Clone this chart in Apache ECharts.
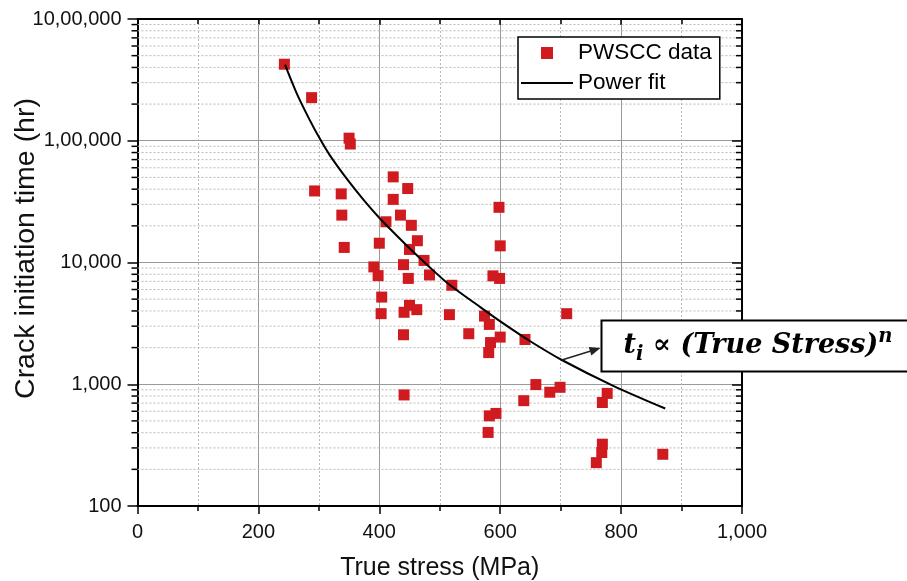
<!DOCTYPE html>
<html>
<head>
<meta charset="utf-8">
<script src="https://cdn.jsdelivr.net/npm/echarts@6/dist/echarts.min.js"></script>
<style>html,body{margin:0;padding:0;background:#fff;}#c{width:907px;height:581px;}</style>
</head>
<body>
<div id="c"></div>
<script>
// ---- data ----
const stress = [243, 288, 350, 352, 293, 337, 338, 342, 423, 447, 423, 435, 411, 453, 400, 463, 450, 474, 391, 398, 440, 483, 448, 520, 598, 600, 588, 599, 404, 450, 462, 441, 403, 516, 574, 582, 548, 600, 584, 641, 440, 581, 441, 639, 710, 659, 682, 699, 777, 769, 582, 593, 580, 769, 768, 759, 869];
const initTime = [425000, 226000, 105000, 94000, 38700, 36600, 24500, 13300, 50500, 40500, 33000, 24500, 21600, 20200, 14400, 15100, 12800, 10400, 9200, 7800, 9600, 7900, 7400, 6500, 28400, 13700, 7770, 7400, 5200, 4450, 4100, 3900, 3800, 3730, 3630, 3100, 2600, 2440, 2200, 2330, 2550, 1820, 817, 733, 3800, 994, 860, 944, 841, 708, 550, 576, 402, 322, 275, 227, 266];
const fitStress = [244, 263, 285, 302, 318, 347, 374, 401, 429, 456, 479, 512, 567, 605, 649, 702, 787, 873];
const fitTime = [421300, 247600, 147800, 103200, 76200, 48100, 32700, 22980, 16600, 12270, 9590, 6825, 4300, 3160, 2266, 1582, 971, 632];
const xTickValues = [0, 200, 400, 600, 800, 1000];
const xTickLabels = ['0', '200', '400', '600', '800', '1,000'];
const yTickValues = [100, 1000, 10000, 100000, 1000000];
const yTickLabels = ['100', '1,000', '10,000', '1,00,000', '10,00,000'];
const yMinorValues = [200, 300, 400, 500, 600, 700, 800, 900, 2000, 3000, 4000, 5000, 6000, 7000, 8000, 9000, 20000, 30000, 40000, 50000, 60000, 70000, 80000, 90000, 200000, 300000, 400000, 500000, 600000, 700000, 800000, 900000];
const arrowFrom = [702, 1582];

const FONT = "'Liberation Sans', Arial, sans-serif";
const chart = echarts.init(document.getElementById('c'), null, {renderer: 'canvas'});

function lookup(vals, labels, v) {
  for (let i = 0; i < vals.length; i++) {
    if (Math.abs(vals[i] - v) / Math.max(1, vals[i]) < 1e-6) return labels[i];
  }
  return '';
}

const axisLineStyle = {color: '#000', width: 2};
const tickStyle = {color: '#000', width: 1.5};

chart.setOption({
  animation: false,
  backgroundColor: '#fff',
  grid: {left: 137.5, right: 165, top: 19, bottom: 75, containLabel: false, outerBoundsMode: 'none'},
  legend: {
    left: 518, top: 37, orient: 'vertical',
    backgroundColor: '#fff', borderColor: '#000', borderWidth: 1.5, borderRadius: 0,
    padding: [4.5, 8, 4.5, 3], itemGap: 7, itemWidth: 52, itemHeight: 12,
    symbolKeepAspect: true,
    textStyle: {fontSize: 22.5, color: '#000', fontFamily: FONT},
    data: [
      {name: 'PWSCC data', icon: 'path://M0,0L10,0L10,10L0,10Z'},
      {name: 'Power fit', icon: 'path://M0,0L52,0L52,2L0,2Z'}
    ]
  },
  xAxis: [{
    type: 'value', min: 0, max: 1000, interval: 200, position: 'bottom',
    name: 'True stress (MPa)', nameLocation: 'middle', nameGap: 50, nameMoveOverlap: false,
    nameTextStyle: {fontSize: 25, color: '#111', fontFamily: FONT},
    axisLine: {show: true, onZero: false, lineStyle: axisLineStyle},
    axisTick: {show: true, inside: false, length: 8, lineStyle: tickStyle},
    minorTick: {show: true, splitNumber: 2, length: 5, lineStyle: tickStyle},
    axisLabel: {fontSize: 20, color: '#111', fontFamily: FONT, margin: 16,
      formatter: v => lookup(xTickValues, xTickLabels, v)},
    splitLine: {show: true, lineStyle: {color: '#9a9a9a', width: 1}},
    minorSplitLine: {show: true, lineStyle: {color: '#b8b8b8', width: 1, type: [2, 2]}}
  }, {
    type: 'value', min: 0, max: 1000, interval: 200, position: 'top',
    axisLine: {show: true, onZero: false, lineStyle: axisLineStyle},
    axisTick: {show: true, inside: true, length: 6, lineStyle: tickStyle},
    minorTick: {show: true, splitNumber: 2, length: 5, lineStyle: tickStyle},
    axisLabel: {show: false}, splitLine: {show: false}
  }],
  yAxis: [{
    type: 'log', logBase: 10, min: 100, max: 1000000, position: 'left',
    name: 'Crack initiation time (hr)', nameLocation: 'middle', nameGap: 97, nameMoveOverlap: false,
    nameTextStyle: {fontSize: 28.5, color: '#111', fontFamily: FONT, padding: [0, 0, 0, 28]},
    axisLine: {show: true, onZero: false, lineStyle: axisLineStyle},
    axisTick: {show: true, inside: false, length: 10, lineStyle: tickStyle},
    axisLabel: {fontSize: 20, color: '#111', fontFamily: FONT, margin: 16,
      formatter: v => lookup(yTickValues, yTickLabels, v)},
    splitLine: {show: true, lineStyle: {color: '#9a9a9a', width: 1}}
  }, {
    type: 'log', logBase: 10, min: 100, max: 1000000, position: 'right',
    axisLine: {show: true, onZero: false, lineStyle: axisLineStyle},
    axisTick: {show: true, inside: true, length: 10, lineStyle: tickStyle},
    axisLabel: {show: false}, splitLine: {show: false}
  }],
  series: [{
    type: 'custom', name: 'minor', silent: true, z: 1,
    xAxisIndex: 0, yAxisIndex: 0,
    data: yMinorValues.map(v => [0, v]),
    encode: {x: 0, y: 1},
    renderItem: function (params, api) {
      const cs = params.coordSys;
      const y = api.coord([0, api.value(1)])[1];
      const r = cs.x + cs.width;
      return {type: 'group', children: [
        {type: 'line', shape: {x1: cs.x, y1: y, x2: r, y2: y}, style: {stroke: '#b8b8b8', lineWidth: 1, lineDash: [2, 2]}},
        {type: 'line', shape: {x1: cs.x - 6, y1: y, x2: cs.x, y2: y}, style: {stroke: '#000', lineWidth: 1.5}},
        {type: 'line', shape: {x1: r - 6, y1: y, x2: r, y2: y}, style: {stroke: '#000', lineWidth: 1.5}}
      ]};
    }
  }, {
    type: 'scatter', name: 'PWSCC data', z: 3,
    symbol: 'rect', symbolSize: 11,
    itemStyle: {color: '#cf1b20', opacity: 1},
    data: stress.map((s, i) => [s, initTime[i]])
  }, {
    type: 'line', name: 'Power fit', z: 4,
    symbol: 'none', showSymbol: false, smooth: 0.3,
    lineStyle: {color: '#000', width: 2},
    itemStyle: {color: '#000'},
    data: fitStress.map((s, i) => [s, fitTime[i]])
  }]
});

// annotation box + arrow
const start = chart.convertToPixel({gridIndex: 0}, arrowFrom);
const boxX = 601.5, boxY = 320.5, boxH = 51;
const tip = [boxX - 1, 348];
const ang = Math.atan2(tip[1] - start[1], tip[0] - start[0]);
const hl = 11, hw = 4.5;
const base = [tip[0] - hl * Math.cos(ang), tip[1] - hl * Math.sin(ang)];
const nx = -Math.sin(ang), ny = Math.cos(ang);
const SERIF = "'DejaVu Serif', 'Liberation Serif', serif";
chart.setOption({
  graphic: [
    {type: 'line', z: 100, shape: {x1: start[0], y1: start[1], x2: base[0], y2: base[1]}, style: {stroke: '#222', lineWidth: 1.5}},
    {type: 'polygon', z: 100, shape: {points: [tip, [base[0] + nx * hw, base[1] + ny * hw], [base[0] - nx * hw, base[1] - ny * hw]]}, style: {fill: '#222'}},
    {type: 'rect', z: 100, shape: {x: boxX, y: boxY, width: 320, height: boxH}, style: {fill: '#fff', stroke: '#000', lineWidth: 2}},
    {type: 'text', z: 101, x: boxX + 156.5, y: boxY + boxH / 2,
      style: {
        text: '{b|t}{sub|i}{m| ∝ }{b|(True Stress)}{sup|n}',
        align: 'center', verticalAlign: 'middle',
        rich: {
          b: {fontFamily: SERIF, fontSize: 27, fontWeight: 'bold', fontStyle: 'italic', fill: '#000', lineHeight: 38, verticalAlign: 'middle'},
          m: {fontFamily: SERIF, fontSize: 27, fontWeight: 'bold', fill: '#000', lineHeight: 38, verticalAlign: 'middle'},
          sub: {fontFamily: SERIF, fontSize: 19.5, fontWeight: 'bold', fontStyle: 'italic', fill: '#000', lineHeight: 38, verticalAlign: 'bottom'},
          sup: {fontFamily: SERIF, fontSize: 19.5, fontWeight: 'bold', fontStyle: 'italic', fill: '#000', lineHeight: 38, verticalAlign: 'top'}
        }
      }}
  ]
});
</script>
</body>
</html>
